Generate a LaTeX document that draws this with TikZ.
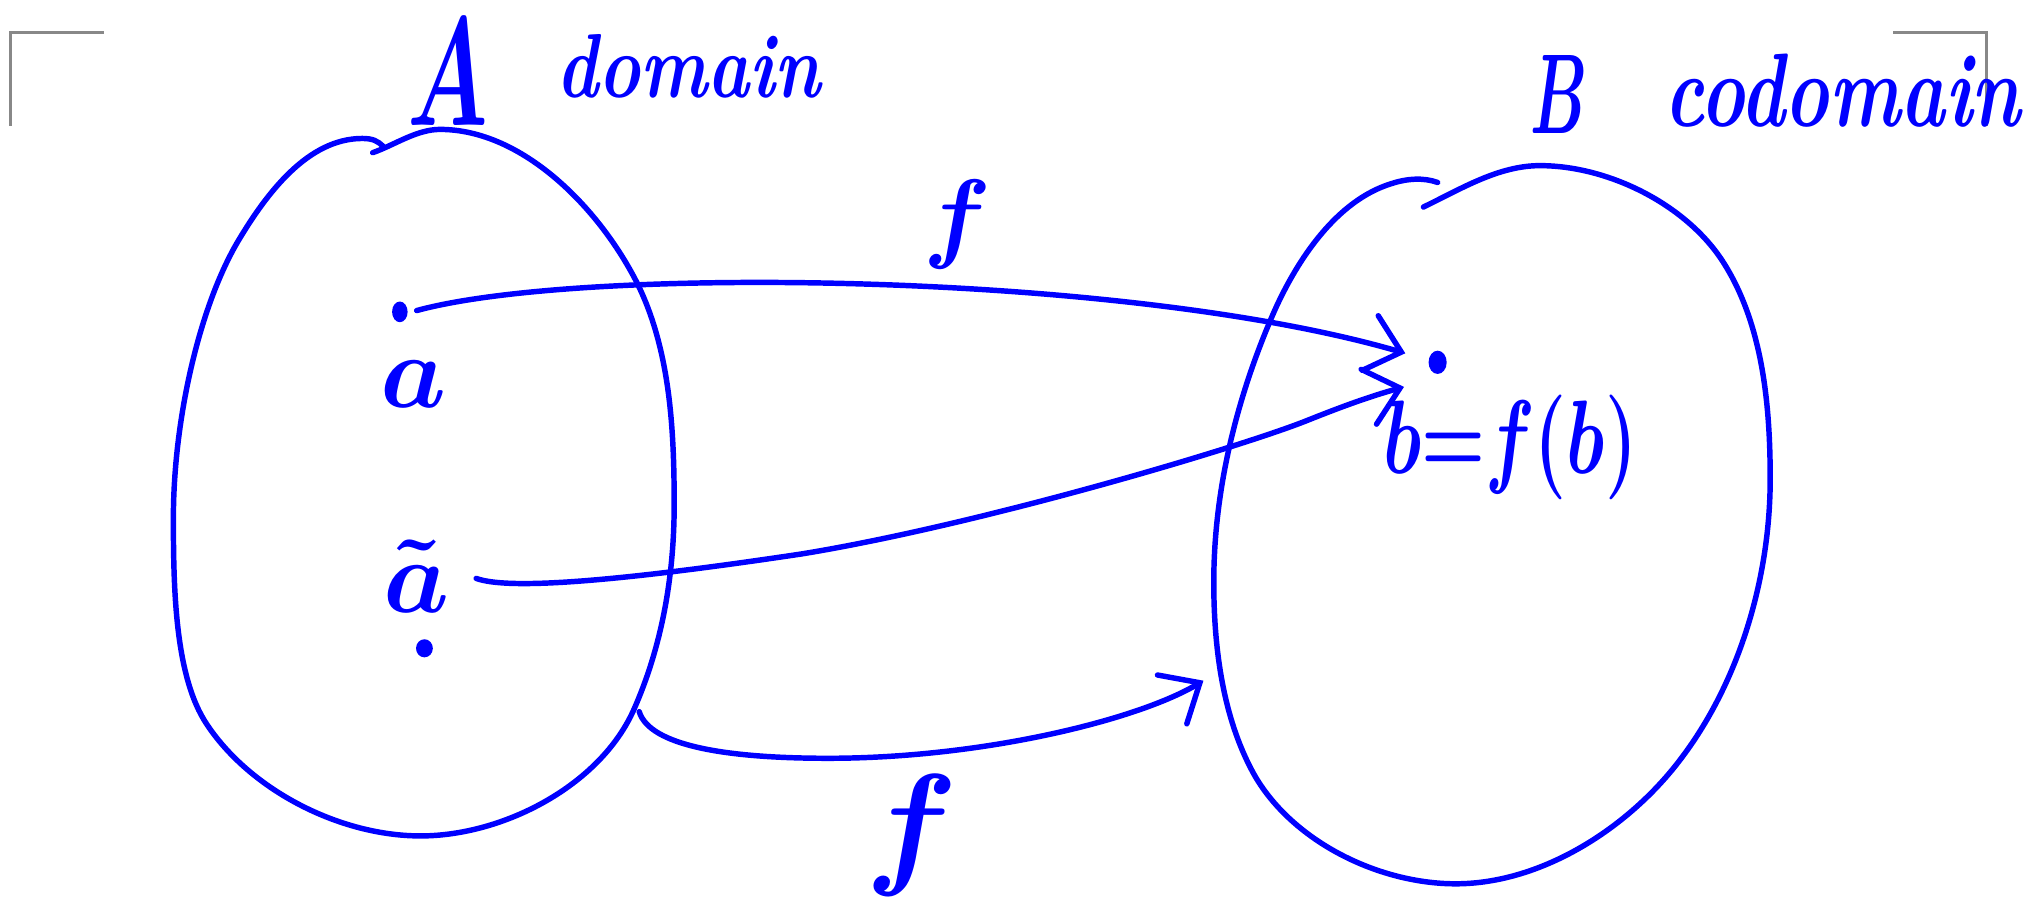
\RequirePackage{fix-cm}
\documentclass[tikz,border=0pt]{standalone}
\usepackage{graphicx}
\usepackage{xcolor}
\usetikzlibrary{arrows.meta,positioning,shapes.geometric}

\definecolor{inkblue}{RGB}{0,0,255}
\definecolor{markgray}{RGB}{136,136,136}
\newcommand{\inkscale}[2]{\scalebox{#1}[1]{#2}}

\begin{document}
\begin{tikzpicture}[
    x=0.1mm, y=-0.1mm,
    setline/.style={draw=inkblue, line width=1.2pt, line cap=round, line join=round},
    arrow/.style={draw=inkblue, line width=1.2pt, line cap=round, -{Straight Barb[length=2.5mm, width=4.4mm, line cap=round]}},
    dot/.style={ellipse, fill=inkblue, inner sep=0pt, minimum width=1.2mm, minimum height=1.6mm},
    lbl/.style={text=inkblue, anchor=base, inner sep=0pt},
    cropmark/.style={draw=markgray, line width=0.6pt}
]
\useasboundingbox (0,0) rectangle (1568,695);

% Page corners
\draw[cropmark] (80,25) -- (8,25) -- (8,97);
\draw[cropmark] (1463,25) -- (1535,25) -- (1535,97);

% Set A
\draw[setline] (288,118) .. controls (305,112) and (322,100) .. (340,100)
    .. controls (404,100) and (463,161) .. (492,218)
    .. controls (518,270) and (521,332) .. (521,390)
    .. controls (521,444) and (512,498) .. (490,548)
    .. controls (464,607) and (389,646) .. (325,646)
    .. controls (263,646) and (194,611) .. (160,560)
    .. controls (135,523) and (134,454) .. (134,400)
    .. controls (134,327) and (153,240) .. (183,188)
    .. controls (206,149) and (238,107) .. (280,107)
    .. controls (288,107) and (292,109) .. (296,113);

% Set B
\draw[setline] (1100,160) .. controls (1129,146) and (1158,128) .. (1190,128)
    .. controls (1242,128) and (1301,157) .. (1330,200)
    .. controls (1362,248) and (1368,312) .. (1368,370)
    .. controls (1368,445) and (1345,525) .. (1300,585)
    .. controls (1260,639) and (1192,683) .. (1125,683)
    .. controls (1066,683) and (1000,651) .. (970,600)
    .. controls (945,556) and (938,501) .. (938,450)
    .. controls (938,378) and (956,306) .. (985,240)
    .. controls (1003,200) and (1033,155) .. (1075,142)
    .. controls (1087,138) and (1100,137) .. (1111,141);

% Set labels
\node[lbl, font=\fontsize{34}{36}\selectfont\boldmath] (nameA) at (346,97) {\inkscale{0.6}{$A$}};
\node[lbl, font=\fontsize{20}{22}\selectfont\bfseries\itshape] (domA) at (532,75) {\inkscale{0.78}{domain}};
\node[lbl, font=\fontsize{25}{27}\selectfont\boldmath] (nameB) at (1205,103) {\inkscale{0.55}{$B$}};
\node[lbl, font=\fontsize{23}{25}\selectfont\bfseries\itshape] (codB) at (1424,98) {\inkscale{0.72}{codomain}};

% Points
\node[dot] (dota) at (309,241) {};
\node[dot, minimum width=1.3mm, minimum height=1.4mm] (dotat) at (328,501) {};
\node[dot, minimum width=1.4mm, minimum height=1.8mm] (dotb) at (1111,280) {};

\node[lbl, font=\fontsize{23}{25}\selectfont\boldmath] (laba) at (320,315) {$a$};
\node[lbl, font=\fontsize{23}{25}\selectfont\boldmath] (labat) at (322,473) {$\tilde{a}$};
\node[lbl, font=\fontsize{23}{25}\selectfont\boldmath] (labb) at (1167,366) {\inkscale{0.7}{$b{=}f(b)$}};

% Map labels
\node[lbl, font=\fontsize{22}{24}\selectfont\boldmath] (ftop) at (740,193) {$f$};
\node[lbl, font=\fontsize{30}{32}\selectfont\boldmath] (fbot) at (705,672) {$f$};

% Arrow ends
\coordinate (froma) at (322,240);
\coordinate (fromat) at (368,447);
\coordinate (fromedge) at (494,550);
\coordinate (tipa) at (1086,273);
\coordinate (tipat) at (1085,299);
\coordinate (tipedge) at (930,526);

% Arrows
\draw[arrow] (froma) .. controls (450,205) and (870,210) .. (tipa);
\draw[arrow] (fromat) .. controls (390,455) and (460,452) .. (620,428)
    .. controls (760,405) and (960,345) .. (1010,325)
    .. controls (1040,313) and (1060,306) .. (tipat);
\draw[arrow] (fromedge) .. controls (502,576) and (560,586) .. (640,586)
    .. controls (760,586) and (880,556) .. (tipedge);

\end{tikzpicture}
\end{document}
